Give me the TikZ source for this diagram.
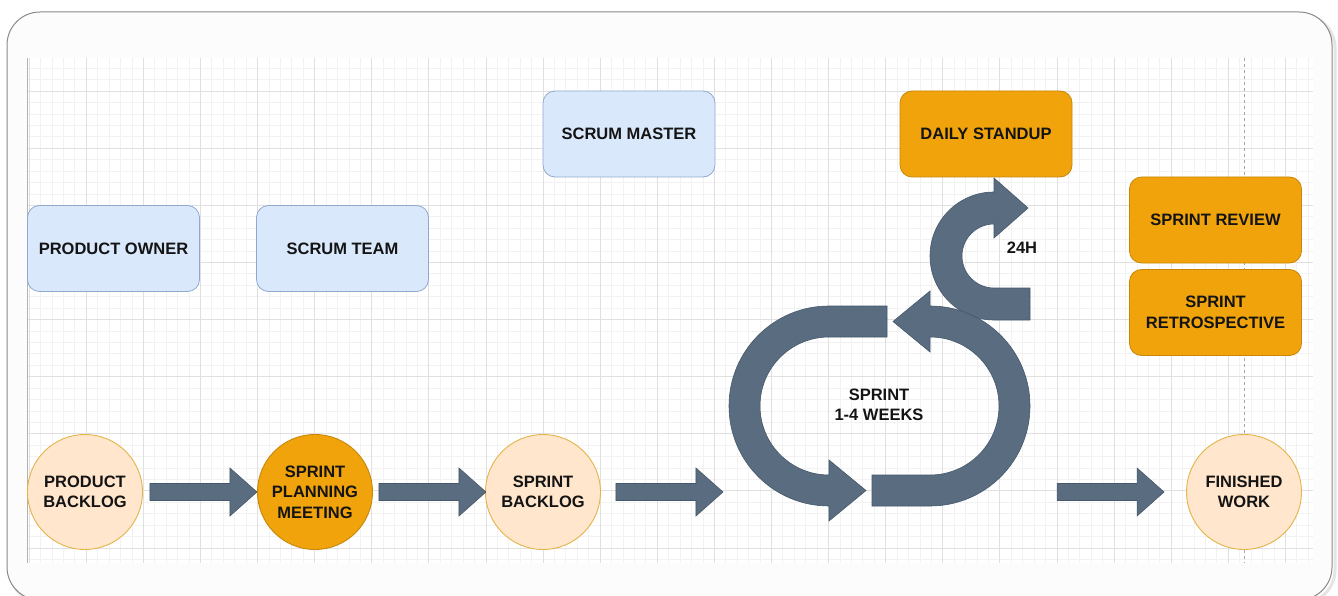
\documentclass[tikz,border=0pt]{standalone}
\usepackage{fontspec}
\setmainfont{Liberation Sans}
\usetikzlibrary{calc}
\definecolor{arrowfill}{HTML}{5A6D80}
\definecolor{arrowline}{HTML}{45576A}
\definecolor{bluefill}{HTML}{DAE8FC}
\definecolor{blueline}{HTML}{8FA9CF}
\definecolor{orangefill}{HTML}{F0A30A}
\definecolor{orangeline}{HTML}{C8870A}
\definecolor{peachfill}{HTML}{FFE6CC}
\definecolor{peachline}{HTML}{E3B44A}
\definecolor{txt}{HTML}{141414}
\definecolor{framegray}{HTML}{8A8A8A}
\definecolor{gridminor}{HTML}{F2F2F2}
\definecolor{gridmajor}{HTML}{E0E0E0}
\begin{document}
\begin{tikzpicture}[x=1pt,y=-1pt,
  lbl/.style={text=txt, font=\fontsize{16.5}{20.5}\selectfont\bfseries, align=center},
  boxbase/.style={lbl, rounded corners=12pt, minimum width=172pt, minimum height=86pt, inner sep=0pt, line width=0.8pt},
  bluebox/.style={boxbase, fill=bluefill, draw=blueline},
  orangebox/.style={boxbase, fill=orangefill, draw=orangeline},
  circbase/.style={lbl, circle, minimum size=115pt, inner sep=0pt, line width=0.9pt},
  peachcirc/.style={circbase, fill=peachfill, draw=peachline},
  orangecirc/.style={circbase, fill=orangefill, draw=orangeline},
  bigarrow/.style={fill=arrowfill, draw=arrowline, line width=0.6pt, line join=miter},
  blockarrow/.pic={\path[bigarrow] (0,-8.5) -- (80,-8.5) -- (80,-24) -- (107,0) -- (80,24) -- (80,8.5) -- (0,8.5) -- cycle;}
]
\useasboundingbox (0,0) rectangle (1338,596);
\fill[white] (0,0) rectangle (1338,596);
% outer frame
\begin{scope}
\clip (0,0) rectangle (1338,596);
\draw[line width=3pt, black!10, rounded corners=33pt] (10,15) rectangle (1335,603);
\draw[framegray, line width=1pt, fill=black!1, rounded corners=33pt] (7,12) rectangle (1332,600);
\end{scope}
% grid
\fill[white] (27,58) rectangle (1313,563);
\foreach \i in {0,...,112} {\draw[gridminor, line width=0.5pt] ({29+11.42*\i},58) -- ({29+11.42*\i},563);}
\foreach \j in {0,...,43} {\draw[gridminor, line width=0.5pt] (27,{68.16+11.42*\j}) -- (1313,{68.16+11.42*\j});}
\foreach \i in {0,...,22} {\draw[gridmajor, line width=0.6pt] ({29+57.1*\i},58) -- ({29+57.1*\i},563);}
\foreach \j in {0,...,8} {\draw[gridmajor, line width=0.6pt] (27,{91+57.1*\j}) -- (1313,{91+57.1*\j});}
\draw[black!30, line width=1pt] (27,58) -- (27,563);
\draw[black!35, dashed, line width=0.7pt] (1244,58) -- (1244,563);

% boxes
\node[bluebox] (po) at (113.5,248.5) {PRODUCT OWNER};
\node[bluebox] (st) at (342.5,248.5) {SCRUM TEAM};
\node[bluebox] (sm) at (629,134) {SCRUM MASTER};
\node[orangebox] (ds) at (986,134) {DAILY STANDUP};
\node[orangebox] (sr) at (1215.5,220) {SPRINT REVIEW};
\node[orangebox] (retro) at (1215.5,312.5) {SPRINT\\RETROSPECTIVE};

% circles
\node[peachcirc] (pb) at (85,492) {PRODUCT\\BACKLOG};
\node[orangecirc] (spm) at (315,492) {SPRINT\\PLANNING\\MEETING};
\node[peachcirc] (sb) at (543,492) {SPRINT\\BACKLOG};
\node[peachcirc] (fw) at (1244,492) {FINISHED\\WORK};

% straight block arrows
\pic at ($(pb.east)+(7,0)$) {blockarrow};
\pic at ($(spm.east)+(6,0)$) {blockarrow};
\pic at ($(sb.east)+(15,0)$) {blockarrow};
\pic at ($(fw.west)+(-129,0)$) {blockarrow};

% daily cycle (24H)
\coordinate (dc) at (994,256);
\path[bigarrow] ($(dc)+(36,64)$) -- ($(dc)+(0,64)$)
  arc[start angle=90, end angle=270, radius=64]
  -- ($(dc)+(0,-78)$) -- ($(dc)+(34,-48)$) -- ($(dc)+(0,-18)$) -- ($(dc)+(0,-32)$)
  arc[start angle=270, end angle=90, radius=32]
  -- ($(dc)+(36,32)$) -- cycle;
\node[lbl] (h24) at (1022,248) {24H};

% sprint loop, left half
\coordinate (lc) at (829,406);
\path[bigarrow] ($(lc)+(58,-100)$) -- ($(lc)+(0,-100)$)
  arc[start angle=270, end angle=90, radius=100]
  -- ($(lc)+(0,115)$) -- ($(lc)+(37,84.5)$) -- ($(lc)+(0,54)$) -- ($(lc)+(0,69)$)
  arc[start angle=90, end angle=270, radius=69]
  -- ($(lc)+(58,-69)$) -- cycle;
% sprint loop, right half
\coordinate (rc) at (930,406);
\path[bigarrow] ($(rc)+(-58,100)$) -- ($(rc)+(0,100)$)
  arc[start angle=90, end angle=-90, radius=100]
  -- ($(rc)+(0,-115)$) -- ($(rc)+(-37,-84.5)$) -- ($(rc)+(0,-54)$) -- ($(rc)+(0,-69)$)
  arc[start angle=-90, end angle=90, radius=69]
  -- ($(rc)+(-58,69)$) -- cycle;
\node[lbl] (sprint) at (879,405) {SPRINT\\1-4 WEEKS};
\end{tikzpicture}
\end{document}
